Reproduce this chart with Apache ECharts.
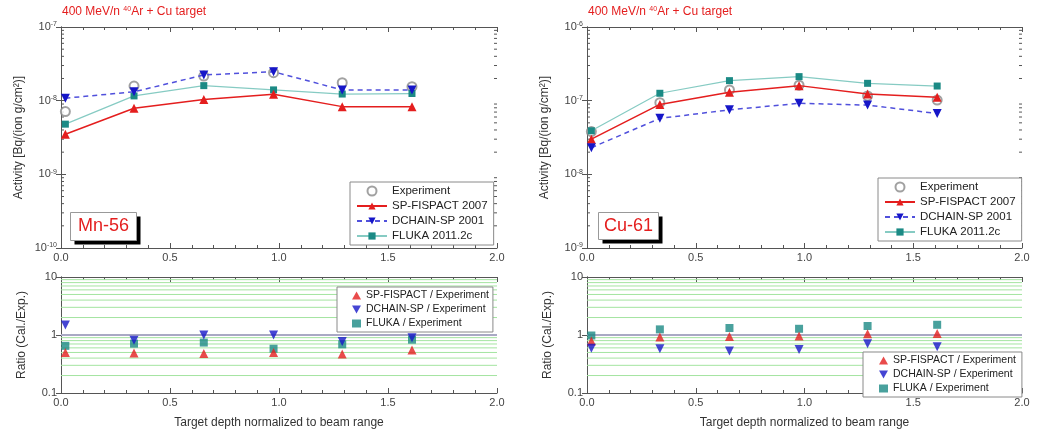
<!DOCTYPE html>
<html><head><meta charset="utf-8">
<script src="https://cdn.jsdelivr.net/npm/echarts@6/dist/echarts.min.js"></script>
<style>html,body{margin:0;padding:0;background:#fff}#c{width:1042px;height:436px}</style>
</head><body><div id="c"></div>
<script>
// ---- data ----
const depth = [0.02, 0.335, 0.655, 0.975, 1.29, 1.61];
const xTicks = ['0.0','0.5','1.0','1.5','2.0'];
// Mn-56 activity
const expMn = [7.1e-9, 1.58e-8, 2.16e-8, 2.4e-8, 1.75e-8, 1.55e-8];
const spMn  = [3.5e-9, 7.9e-9, 1.04e-8, 1.22e-8, 8.3e-9, 8.3e-9];
const dcMn  = [1.08e-8, 1.32e-8, 2.23e-8, 2.47e-8, 1.4e-8, 1.4e-8];
const flMn  = [4.8e-9, 1.16e-8, 1.6e-8, 1.4e-8, 1.23e-8, 1.25e-8];
// Mn-56 ratios
const rSpMn = [0.5, 0.49, 0.48, 0.5, 0.47, 0.55];
const rDcMn = [1.49, 0.81, 1.0, 1.0, 0.77, 0.9];
const rFlMn = [0.65, 0.71, 0.74, 0.58, 0.69, 0.83];
// Cu-61 activity
const expCu = [3.8e-8, 9.4e-8, 1.4e-7, 1.62e-7, 1.16e-7, 1.02e-7];
const spCu  = [3.0e-8, 8.9e-8, 1.3e-7, 1.6e-7, 1.23e-7, 1.11e-7];
const dcCu  = [2.3e-8, 5.75e-8, 7.5e-8, 9.2e-8, 8.7e-8, 6.7e-8];
const flCu  = [3.9e-8, 1.26e-7, 1.87e-7, 2.12e-7, 1.72e-7, 1.58e-7];
// Cu-61 ratios
const rSpCu = [0.79, 0.92, 0.94, 0.96, 1.05, 1.06];
const rDcCu = [0.59, 0.58, 0.53, 0.56, 0.71, 0.63];
const rFlCu = [0.98, 1.25, 1.32, 1.28, 1.43, 1.5];
// labels
const nuclides = ['Mn-56', 'Cu-61'];
const upperNames = ['Experiment', 'SP-FISPACT 2007', 'DCHAIN-SP 2001', 'FLUKA 2011.2c'];
const ratioNames = ['SP-FISPACT / Experiment', 'DCHAIN-SP / Experiment', 'FLUKA / Experiment'];

// ---- styling ----
const FONT = 'Liberation Sans, Arial, sans-serif';
const RED = '#e41e1e', BLUE = '#1616c8', BLUEL = '#5050dc', TEAL = '#1b8a85', TEALL = '#86cbc3', GREY = '#8a8a8a';
const DOWN_TRI = 'path://M0,0 L10,0 L5,9 Z';
const pair = (ys) => depth.map((x, i) => [x, ys[i]]);

const grids = [
  {left: 61, top: 27, width: 436, height: 221},
  {left: 61, top: 277, width: 436, height: 116},
  {left: 587, top: 27, width: 435, height: 221},
  {left: 587, top: 277, width: 435, height: 116}
];
const yRanges = [[1e-10, 1e-7], [0.1, 10], [1e-9, 1e-6], [0.1, 10]];

const supRich = {s: {fontSize: 7, verticalAlign: 'top', padding: [0, 0, 5, 0], color: '#444', fontFamily: FONT}};

const xAxis = [], yAxis = [];
grids.forEach((g, gi) => {
  const upper = gi % 2 === 0;
  xAxis.push({
    type: 'value', gridIndex: gi, min: 0, max: 2, interval: 0.5,
    axisLine: {lineStyle: {color: '#555', width: 1}},
    axisTick: {inside: true, length: 5, lineStyle: {color: '#555'}},
    minorTick: {show: true, splitNumber: 5, length: 3, lineStyle: {color: '#555'}},
    splitLine: {show: false},
    axisLabel: {color: '#444', fontSize: 11, fontFamily: FONT, margin: 4,
      formatter: v => xTicks[Math.round(v / 0.5)]},
    name: upper ? '' : 'Target depth normalized to beam range',
    nameLocation: 'middle', nameGap: 24,
    nameTextStyle: {color: '#333', fontSize: 12, fontFamily: FONT}
  });
  xAxis.push({
    type: 'value', gridIndex: gi, min: 0, max: 2, interval: 0.5, position: 'top',
    axisLine: {lineStyle: {color: '#555', width: 1}},
    axisTick: {inside: true, length: 5, lineStyle: {color: '#555'}},
    minorTick: {show: true, splitNumber: 5, length: 3, lineStyle: {color: '#555'}},
    splitLine: {show: false}, axisLabel: {show: false}
  });
  const yr = yRanges[gi];
  yAxis.push({
    type: 'log', logBase: 10, gridIndex: gi, min: yr[0], max: yr[1], interval: 1,
    axisLine: {show: true, lineStyle: {color: '#555', width: 1}},
    axisTick: {show: true, inside: true, length: 5, lineStyle: {color: '#555'}},
    splitLine: {show: false},
    axisLabel: {color: '#444', fontSize: 11, fontFamily: FONT, margin: 4, rich: supRich,
      formatter: v => {
        if (!upper) return v >= 1 ? String(Math.round(v)) : '0.1';
        const e = Math.round(Math.log10(v));
        return '10{s|' + e + '}';
      }},
    name: upper ? 'Activity [Bq/(ion g/cm²)]' : 'Ratio (Cal./Exp.)',
    nameLocation: 'middle', nameGap: upper ? 36 : 33,
    nameTextStyle: {color: '#333', fontSize: 12, fontFamily: FONT}
  });
  yAxis.push({
    type: 'log', logBase: 10, gridIndex: gi, min: yr[0], max: yr[1], interval: 1, position: 'right',
    axisLine: {show: true, lineStyle: {color: '#555', width: 1}},
    axisTick: {show: true, inside: true, length: 5, lineStyle: {color: '#555'}},
    splitLine: {show: false}, axisLabel: {show: false}
  });
});

// minor log tick values (2..9 per decade) for each grid
function minorVals(lo, hi) {
  const out = [];
  for (let d = Math.round(Math.log10(lo)); d < Math.round(Math.log10(hi)); d++) {
    for (let k = 2; k <= 9; k++) out.push([0, k * Math.pow(10, d)]);
  }
  return out;
}
function minorTickSeries(gi) {
  return {
    type: 'custom', xAxisIndex: 2 * gi, yAxisIndex: 2 * gi, silent: true, z: 1, clip: false,
    data: minorVals(yRanges[gi][0], yRanges[gi][1]),
    renderItem: (params, api) => {
      const y = api.coord([0, api.value(1)])[1];
      const cs = params.coordSys;
      return {type: 'group', children: [
        {type: 'line', shape: {x1: cs.x, y1: y, x2: cs.x + 3, y2: y}, style: {stroke: '#555', lineWidth: 1}},
        {type: 'line', shape: {x1: cs.x + cs.width - 3, y1: y, x2: cs.x + cs.width, y2: y}, style: {stroke: '#555', lineWidth: 1}}
      ]};
    }
  };
}
function greenGridSeries(gi) {
  return {
    type: 'custom', xAxisIndex: 2 * gi, yAxisIndex: 2 * gi, silent: true, z: 1,
    data: minorVals(yRanges[gi][0], yRanges[gi][1]).concat([[1, 1]]),
    renderItem: (params, api) => {
      const y = api.coord([0, api.value(1)])[1];
      const cs = params.coordSys;
      const isOne = api.value(0) === 1;
      return {type: 'line', shape: {x1: cs.x, y1: y, x2: cs.x + cs.width, y2: y},
        style: {stroke: isOne ? '#a9a9c4' : '#a4e4a0', lineWidth: isOne ? 2 : 1}};
    }
  };
}

function upperSeries(gi, e, sp, dc, fl) {
  const ax = {xAxisIndex: 2 * gi, yAxisIndex: 2 * gi};
  return [
    Object.assign({name: upperNames[0], type: 'scatter', data: pair(e), symbol: 'emptyCircle', symbolSize: 9,
      itemStyle: {color: GREY, borderColor: GREY, borderWidth: 1.2}, z: 3}, ax),
    Object.assign({name: upperNames[3], type: 'line', data: pair(fl), symbol: 'rect', symbolSize: 7,
      showAllSymbol: true, lineStyle: {color: TEALL, width: 1.2}, itemStyle: {color: TEAL}, z: 4}, ax),
    Object.assign({name: upperNames[1], type: 'line', data: pair(sp), symbol: 'triangle', symbolSize: 9,
      lineStyle: {color: RED, width: 1.5}, itemStyle: {color: RED}, z: 5}, ax),
    Object.assign({name: upperNames[2], type: 'line', data: pair(dc), symbol: 'triangle', symbolRotate: 180, symbolSize: 9,
      lineStyle: {color: BLUEL, width: 1.5, type: [5, 4]}, itemStyle: {color: BLUE}, z: 6}, ax)
  ];
}
function ratioSeries(gi, sp, dc, fl) {
  const ax = {xAxisIndex: 2 * gi, yAxisIndex: 2 * gi};
  return [
    Object.assign({name: ratioNames[2], type: 'scatter', data: pair(fl), symbol: 'rect', symbolSize: 8, itemStyle: {color: TEAL}, z: 4}, ax),
    Object.assign({name: ratioNames[0], type: 'scatter', data: pair(sp), symbol: 'triangle', symbolSize: 9, itemStyle: {color: RED}, z: 5}, ax),
    Object.assign({name: ratioNames[1], type: 'scatter', data: pair(dc), symbol: 'triangle', symbolRotate: 180, symbolSize: 9, itemStyle: {color: BLUE}, z: 6}, ax)
  ];
}

const series = [].concat(
  [minorTickSeries(0), greenGridSeries(1), minorTickSeries(2), greenGridSeries(3)],
  upperSeries(0, expMn, spMn, dcMn, flMn),
  ratioSeries(1, rSpMn, rDcMn, rFlMn),
  upperSeries(2, expCu, spCu, dcCu, flCu),
  ratioSeries(3, rSpCu, rDcCu, rFlCu)
);

const legendBase = {
  orient: 'vertical', backgroundColor: '#fff', borderColor: '#8a8a8a', borderWidth: 1,
  textStyle: {color: '#222', fontSize: 11.5, fontFamily: FONT}, selectedMode: false
};
const upperLegendData = upperNames.map((n, i) => i === 0 ? {name: n, itemStyle: {borderWidth: 1}} : n);
const ratioLegendData = ratioNames.map((n, i) => i === 1 ? {name: n, icon: DOWN_TRI} : n);
const ratioText = {color: '#222', fontSize: 10.5, fontFamily: FONT};
const legend = [
  Object.assign({}, legendBase, {left: 350, top: 182, itemGap: 3, itemWidth: 30, itemHeight: 9, padding: [3, 6, 3, 6], data: upperLegendData}),
  Object.assign({}, legendBase, {left: 878, top: 178, itemGap: 3, itemWidth: 30, itemHeight: 9, padding: [3, 6, 3, 6], data: upperLegendData}),
  Object.assign({}, legendBase, {left: 337, top: 287, itemGap: 3, itemWidth: 9, itemHeight: 8, padding: [3, 4, 3, 15], data: ratioLegendData, textStyle: ratioText}),
  Object.assign({}, legendBase, {left: 863, top: 352, itemGap: 3, itemWidth: 9, itemHeight: 8, padding: [3, 6, 3, 16], data: ratioLegendData, textStyle: ratioText})
];

function titleText(x) {
  return {type: 'text', left: x, top: 6, z: 10,
    style: {text: '400 MeV/n {s|40}Ar + Cu target', fill: RED, font: '12px ' + FONT,
      rich: {s: {fontSize: 7, fill: RED, verticalAlign: 'top', padding: [0, 0, 5, 0]}}}};
}
function nuclideBox(x, y, w, h, label) {
  return {type: 'group', left: x, top: y, z: 10, children: [
    {type: 'rect', shape: {x: 4, y: 4, width: w, height: h}, style: {fill: '#000'}},
    {type: 'rect', shape: {x: 0, y: 0, width: w, height: h}, style: {fill: '#fff', stroke: '#999', lineWidth: 1}},
    {type: 'text', x: w / 2, y: h / 2, style: {text: label, fill: RED, font: '18px ' + FONT, align: 'center', verticalAlign: 'middle'}}
  ]};
}

const chart = echarts.init(document.getElementById('c'), null, {renderer: 'canvas'});
chart.setOption({
  animation: false,
  backgroundColor: '#fff',
  grid: grids,
  xAxis, yAxis, series, legend,
  graphic: [titleText(62), titleText(588), nuclideBox(70, 212, 66, 28, nuclides[0]), nuclideBox(598, 212, 60, 27, nuclides[1])]
});
</script>
</body></html>
